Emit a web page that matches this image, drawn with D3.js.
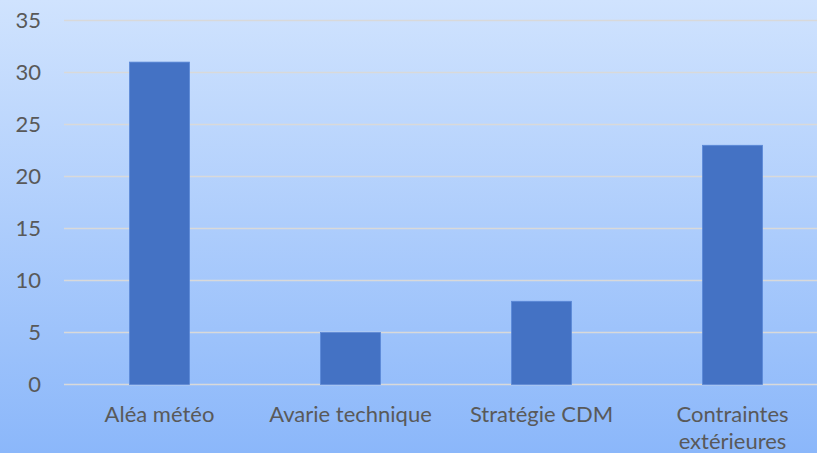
<!DOCTYPE html>
<html><head><meta charset="utf-8">
<script src="https://cdn.jsdelivr.net/npm/d3@7"></script>
<style>body{margin:0;overflow:hidden}svg{display:block}</style>
</head><body>
<script>
const categories = [["Aléa météo"], ["Avarie technique"], ["Stratégie CDM"], ["Contraintes", "extérieures"]];
const values = [31, 5, 8, 23];
const yTicks = [0, 5, 10, 15, 20, 25, 30, 35];

const W = 817, H = 453;
const svg = d3.select("body").append("svg").attr("width", W).attr("height", H);
const defs = svg.append("defs");
const g = defs.append("linearGradient").attr("id", "bg").attr("x1", 0).attr("y1", 0).attr("x2", 0).attr("y2", 1);
g.append("stop").attr("offset", "0%").attr("stop-color", "#d0e3fe");
g.append("stop").attr("offset", "100%").attr("stop-color", "#8bb7fa");
svg.append("rect").attr("width", W).attr("height", H).attr("fill", "url(#bg)");

const x = d3.scaleBand().domain(d3.range(categories.length)).range([64, 828]).paddingInner(0.686).paddingOuter(0.343);
const y = d3.scaleLinear().domain([0, 35]).range([384.5, 20.5]);

svg.append("g").selectAll("line").data(yTicks).join("line")
  .attr("x1", 64).attr("x2", W).attr("y1", d => y(d)).attr("y2", d => y(d))
  .attr("stroke", "#d9d9d9").attr("stroke-width", 1.5);

svg.append("g").selectAll("rect").data(values).join("rect")
  .attr("x", (d, i) => x(i)).attr("width", x.bandwidth())
  .attr("y", d => y(d)).attr("height", d => y(0) - y(d))
  .attr("fill", "#4472c4").attr("stroke", "#5a88d8").attr("stroke-width", 0.8);

const font = "Lato, 'Open Sans', sans-serif";
svg.append("g").selectAll("text").data(yTicks).join("text")
  .attr("x", 41).attr("y", d => y(d)).attr("dy", "0.35em")
  .attr("text-anchor", "end").attr("font-family", font).attr("font-size", 22)
  .attr("fill", "#595959").text(d => d);

const lbl = svg.append("g").selectAll("text").data(categories).join("text")
  .attr("x", (d, i) => x(i) + x.bandwidth() / 2).attr("y", 422)
  .attr("text-anchor", "middle").attr("font-family", font).attr("font-size", 22)
  .attr("fill", "#595959");
lbl.selectAll("tspan").data(d => d).join("tspan")
  .attr("x", function() { return this.parentNode.getAttribute("x"); })
  .attr("dy", (d, i) => i === 0 ? 0 : 27).text(d => d);
</script>
</body></html>
